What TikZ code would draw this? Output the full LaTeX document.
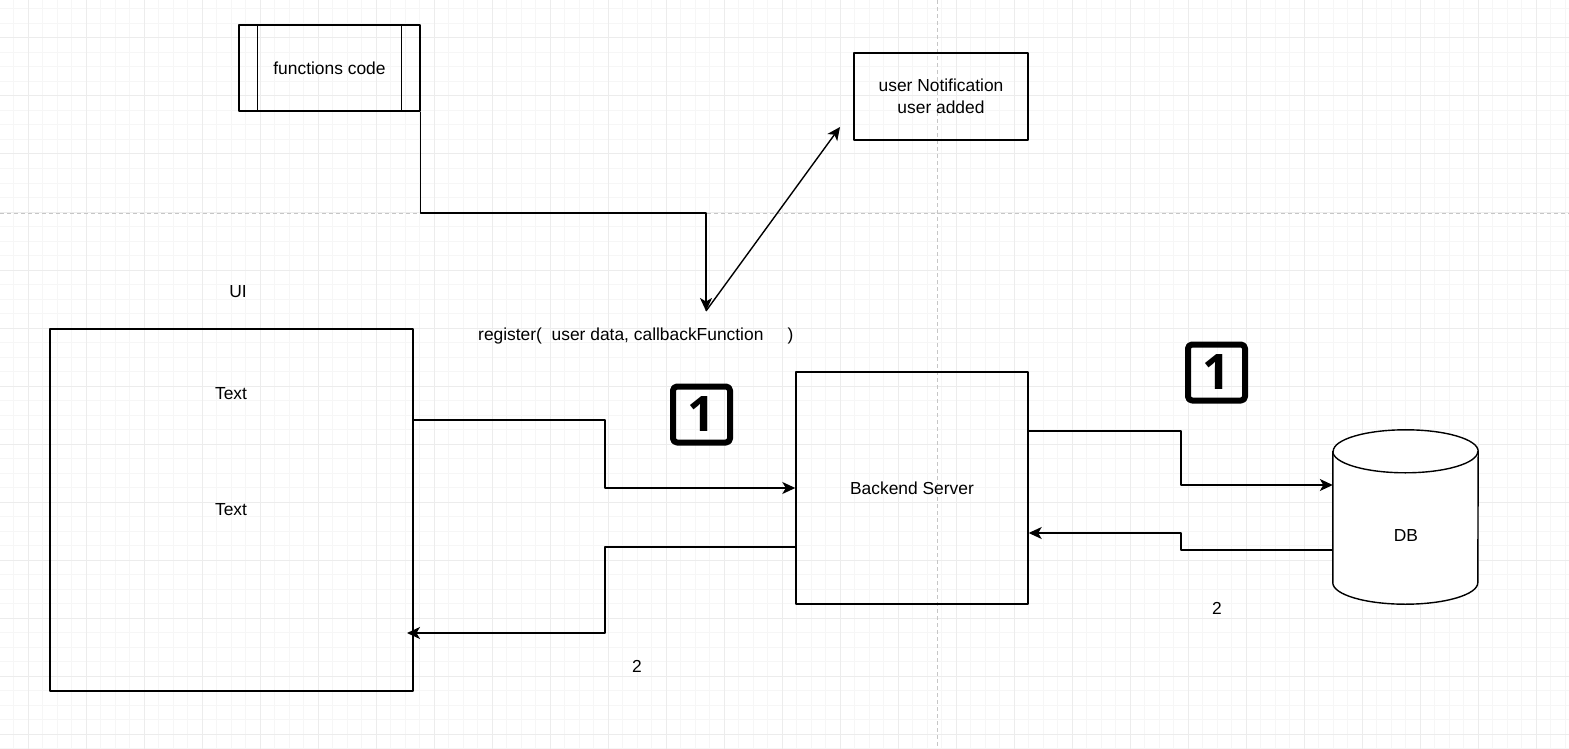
\documentclass[tikz,border=0pt]{standalone}
\usepackage{fontspec}
\setmainfont{Liberation Sans}
\newfontfamily\badgefont{Open Sans}
\usetikzlibrary{arrows.meta}

\tikzset{
  box/.style={draw, line width=1.4pt, inner sep=0pt},
  flow/.style={line width=1.4pt, -{Stealth[length=13pt,width=12pt,inset=3.5pt]}},
  badge/.style={draw, line width=6pt, rounded corners=4pt, inner sep=0pt,
    minimum width=57pt, minimum height=56pt,
    font=\badgefont\bfseries\fontsize{49}{49}\selectfont},
  minorgrid/.style={gray!7, line width=1pt},
  majorgrid/.style={gray!15, line width=1pt},
  pagebreak/.style={gray!45, line width=1pt, dash pattern=on 4pt off 3pt},
}

\begin{document}
\begin{tikzpicture}[x=1pt,y=-1pt,line join=round,
  every node/.style={font=\fontsize{17.4}{21.75}\selectfont}]
  \useasboundingbox (0,0) rectangle (1569,749);

  % grid background
  \fill[white] (0,0) rectangle (1569,749);
  \foreach \i in {0,...,107} \draw[minorgrid] ({13.5+14.5*\i},0) -- ++(0,749);
  \foreach \j in {0,...,51} \draw[minorgrid] (0,{9+14.5*\j}) -- ++(1569,0);
  \foreach \i in {0,...,26} \draw[majorgrid] ({28+58*\i},0) -- ++(0,749);
  \foreach \j in {0,...,12} \draw[majorgrid] (0,{38+58*\j}) -- ++(1569,0);
  \draw[pagebreak] (937,0) -- (937,749);
  \draw[pagebreak] (0,213) -- (1569,213);

  % functions code (process box)
  \node[box, minimum width=181pt, minimum height=86pt] (fn) at (329.5,68) {functions code};
  \draw[line width=1.4pt] ([xshift=19pt]fn.north west) -- ([xshift=19pt]fn.south west);
  \draw[line width=1.4pt] ([xshift=-19pt]fn.north east) -- ([xshift=-19pt]fn.south east);

  % notification
  \node[box, minimum width=174pt, minimum height=87pt, align=center] (notify) at (941,96.5)
    {user Notification\\user added};

  % UI
  \node (uilabel) at (238,292) {UI};
  \node[box, minimum width=363pt, minimum height=362pt] (ui) at (231.5,510) {};
  \node (text1) at (231,394) {Text};
  \node (text2) at (231,510) {Text};

  % call
  \node[anchor=west, inner sep=0pt] (reg) at (478,336)
    {register(\ \ user data, callbackFunction\ \ \ \ \ )};

  % badges
  \node[badge] (badgeA) at (701.5,414.5) {1};
  \node[badge] (badgeB) at (1216.5,372.5) {1};

  % backend
  \node[box, minimum size=232pt] (be) at (912,488) {Backend Server};

  % DB cylinder
  \node[minimum width=145pt, minimum height=174pt, inner sep=0pt] (db) at (1405.5,517) {};
  \draw[line width=1.4pt, fill=white] ([yshift=-21.5pt]db.north west)
    -- ([yshift=21.5pt]db.south west)
    arc[start angle=180, end angle=360, x radius=72.5pt, y radius=21.5pt]
    -- ([yshift=-21.5pt]db.north east)
    arc[start angle=0, end angle=180, x radius=72.5pt, y radius=21.5pt] -- cycle;
  \draw[line width=1.4pt] ([yshift=-21.5pt]db.north west)
    arc[start angle=180, end angle=360, x radius=72.5pt, y radius=21.5pt];
  \node (dbtext) at (1406,536) {DB};

  % labels
  \node (twoA) at (637,666) {2};
  \node (twoB) at (1217,608) {2};

  % connectors
  \coordinate (hub) at (706,311);
  \coordinate (cbtip) at (840,127);
  \coordinate (uiin) at (407,633);
  \draw[flow] (fn.south east) -- (fn.south east |- 0,213) -| (hub);
  \draw[flow] (hub) -- (cbtip);
  \draw[flow] (ui.east |- 0,420) -| (605,488) -- (be.west);
  \draw[flow] (be.west |- 0,547) -| (605,633) -- (uiin);
  \draw[flow] (be.east |- 0,431) -| (1181,485) -- (db.west |- 0,485);
  \draw[flow] (db.west |- 0,550) -| (1181,533) -- (be.east |- 0,533);
\end{tikzpicture}
\end{document}
